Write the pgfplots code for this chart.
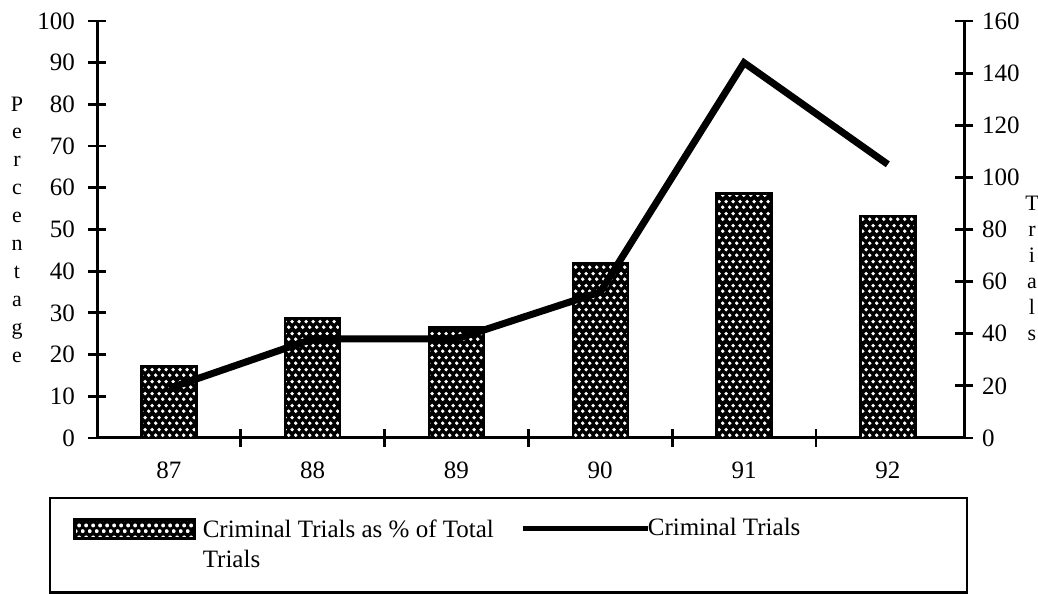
\documentclass[border=0pt]{standalone}
\usepackage{pgfplots}
\pgfplotsset{compat=1.18}
\usepackage{fontspec}
\setmainfont{Liberation Serif}
\usetikzlibrary{patterns.meta}

\tikzdeclarepattern{
  name=wdots,
  type=uncolored,
  bounding box={(0,0) and (3.7bp,6bp)},
  tile size={(3.7bp,6bp)},
  code={
    \fill (0.925bp,1.5bp) circle (1.05bp);
    \fill (2.775bp,4.5bp) circle (1.05bp);
  }
}

\tikzset{
  dotbar/.style={fill=black, draw=black, line width=1.2bp,
    postaction={pattern=wdots, pattern color=white}},
}

\pgfplotsset{
  common/.style={
    scale only axis, width=433.5bp, height=208.5bp,
    at={(48.5bp,78bp)}, anchor=south west,
    xmin=-0.5, xmax=5.53,
    tick align=center,
    major tick length=9bp,
    minor tick length=9bp,
    every tick/.style={black, line width=1.4bp},
    axis line style={line width=1.5bp},
    ticklabel style={font=\fontsize{12.5bp}{15bp}\selectfont},
    /pgf/number format/assume math mode=true,
    clip=false,
  },
}

\begin{document}
\begin{tikzpicture}
\useasboundingbox (0,0) rectangle (519bp,297bp);

\begin{axis}[common,
  axis y line*=left, axis x line*=bottom,
  ymin=0, ymax=100, ytick={0,10,...,100},
  xtick={0,...,5}, xticklabels={87,88,89,90,91,92},
  minor xtick={0.5,1.5,2.5,3.5,4.5},
  major x tick style={draw=none},
  xticklabel style={yshift=-4bp},
  yticklabel style={xshift=-3bp},
]
\addplot[ybar, bar width=27.5bp, dotbar] coordinates {
  (0,17.3) (1,28.8) (2,26.5) (3,42.0) (4,58.6) (5,53.3)
};
\end{axis}

\begin{axis}[common,
  axis y line*=right, axis x line=none,
  ymin=0, ymax=160, ytick={0,20,...,160},
  yticklabel style={xshift=1bp},
  legend columns=2,
  legend cell align=left,
  legend style={
    at={(axis description cs:-0.0277,-0.187)}, anchor=north west,
    draw=none, fill=none, inner sep=0pt,
    font=\fontsize{12.5bp}{15bp}\selectfont,
    nodes={inner sep=0pt},
    column sep=3.5bp,
    /tikz/every even column/.append style={column sep=13.5bp},
  },
]
\addlegendimage{legend image code/.code={
  \draw[dotbar] (0bp,-0.5bp) rectangle (60bp,9bp);}}
\addlegendentry{\raisebox{9bp}{\begin{tabular}[t]{@{}l@{}}Criminal Trials as \% of Total\\Trials\end{tabular}}}
\addplot[black, line width=3.5bp, line join=miter,
  legend image code/.code={\draw[black, line width=2.5bp] (0bp,4.5bp) -- (62.5bp,4.5bp);}]
  coordinates {(0,19) (1,38) (2,38) (3,56) (4,144) (5,105)};
\addlegendentry{\hspace*{-5bp}\raisebox{9bp}{Criminal Trials}}
\end{axis}

\draw[line width=1.3bp] (25bp,0.75bp) rectangle (483.5bp,48bp);

\node[font=\fontsize{11bp}{13.95bp}\selectfont, align=center, inner sep=0pt]
  at (8.5bp,182.25bp) {P\\e\\r\\c\\e\\n\\t\\a\\g\\e};
\node[font=\fontsize{11bp}{13bp}\selectfont, align=center, inner sep=0pt]
  at (516bp,163bp) {T\\r\\i\\a\\l\\s};
\end{tikzpicture}
\end{document}
